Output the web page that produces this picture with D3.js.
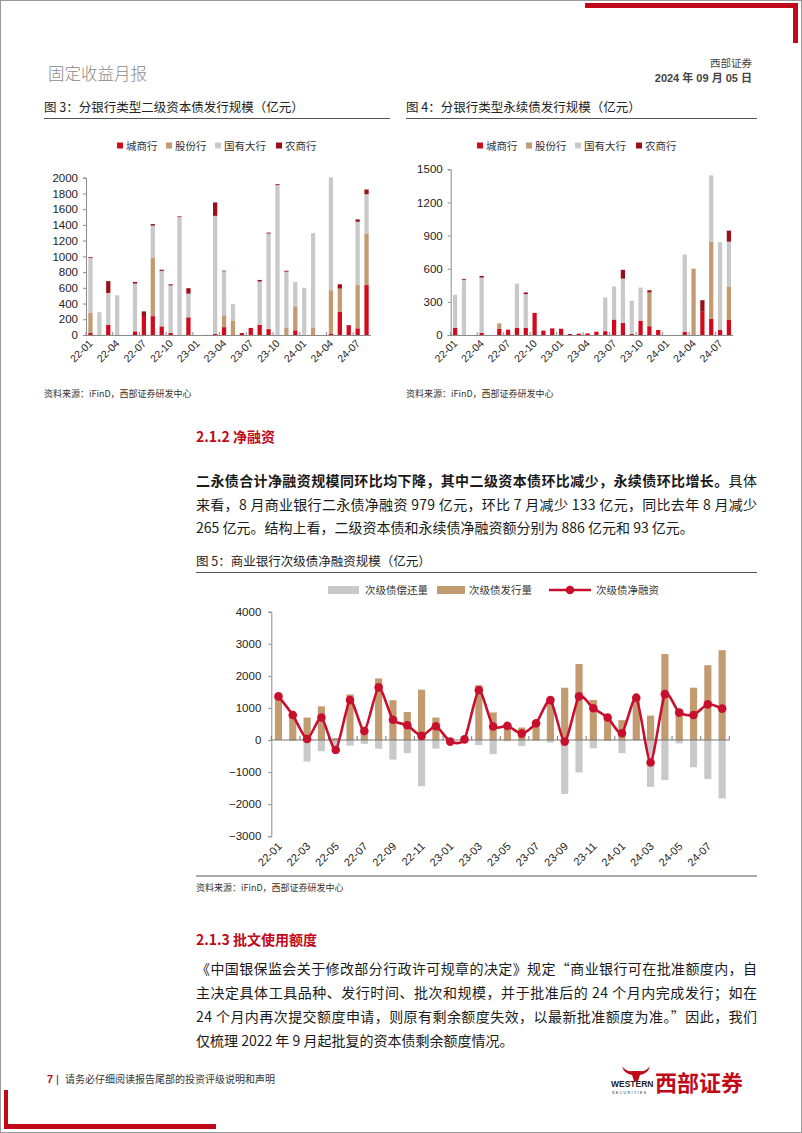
<!DOCTYPE html>
<html><head><meta charset="utf-8">
<script src="https://cdn.jsdelivr.net/npm/d3@7"></script>
<style>
html,body{margin:0;padding:0;background:#fff;}
svg{display:block;font-family:"Liberation Sans","Noto Sans CJK SC",sans-serif;}
</style></head>
<body>
<svg id="page" width="802" height="1133"></svg>
<script>
// ---------------- DATA ----------------
const months = ["22-01","22-02","22-03","22-04","22-05","22-06","22-07","22-08","22-09","22-10","22-11","22-12",
"23-01","23-02","23-03","23-04","23-05","23-06","23-07","23-08","23-09","23-10","23-11","23-12",
"24-01","24-02","24-03","24-04","24-05","24-06","24-07","24-08"];
const bankTypes = ["城商行","股份行","国有大行","农商行"];
// 图3 二级资本债
const t2City  = [25,0,130,0,0,47,230,240,110,25,0,225,0,0,15,100,0,25,90,130,75,0,0,60,0,0,0,20,295,125,85,635];
const t2Joint = [255,0,0,0,0,0,0,745,0,0,0,0,0,0,0,150,185,0,0,0,0,0,95,305,0,95,0,550,295,0,550,655];
const t2State = [700,290,405,505,0,607,0,405,705,605,1500,300,0,5,1500,560,210,0,0,550,1215,1905,710,310,600,1200,0,1435,0,0,805,500];
const t2Rural = [10,0,150,0,0,21,70,20,15,15,8,70,0,0,170,8,0,0,0,20,12,12,12,0,0,0,0,0,55,0,30,60];
// 图4 永续债
const pCity  = [65,0,0,20,0,55,48,65,65,200,40,60,57,9,12,15,30,35,140,110,10,130,80,45,0,0,30,0,210,145,45,140];
const pJoint = [0,0,0,0,0,50,0,0,0,0,0,0,0,0,0,0,0,0,0,0,0,0,305,0,0,0,0,600,0,700,0,300];
const pState = [300,500,0,500,0,0,0,400,305,0,0,0,0,0,0,0,0,305,300,400,300,300,0,0,0,0,700,0,0,600,795,405];
const pRural = [0,8,0,15,0,0,0,0,15,0,0,0,0,0,0,0,0,0,0,80,0,0,20,0,0,0,0,0,105,0,0,100];
// 图5 次级债
const seriesNames = ["次级债偿还量","次级债发行量","次级债净融资"];
const issue  = [1360,810,700,1050,60,1420,400,1920,1240,870,1570,700,50,30,1710,860,480,390,540,1320,1630,2370,1250,730,620,1330,760,2680,960,1630,2330,2800];
const redeem = [0,-30,-670,-350,-370,-175,-120,-270,-610,-410,-1440,-270,-100,-10,-160,-440,-40,-190,-20,-80,-1680,-1010,-260,-30,-410,-10,-1460,-1250,-105,-850,-1218,-1820];
const netFin = [1360,780,30,700,-310,1245,280,1640,630,460,130,430,-50,20,1550,420,440,200,520,1244,-50,1360,990,700,210,1320,-700,1430,855,780,1112,979];
const t2Ticks = [0,200,400,600,800,1000,1200,1400,1600,1800,2000];
const pTicks = [0,300,600,900,1200,1500];
const netTicks = [-3000,-2000,-1000,0,1000,2000,3000,4000];

// ---------------- STYLE ----------------
const C = {city:"#D20A1E", joint:"#C39B70", state:"#C9C9C9", rural:"#9B1018", line:"#C8102E", axis:"#8a8a8a", red:"#C00A1A"};
const CJK = '"Noto Sans CJK SC","Liberation Sans",sans-serif';
const fmt = d3.format("d");
const svg = d3.select("#page");

// page frame & decorations
svg.append("rect").attr("x",0.5).attr("y",0.5).attr("width",801).attr("height",1132).attr("fill","none").attr("stroke","#9a9a9a");
svg.append("rect").attr("x",585).attr("y",3).attr("width",212).attr("height",5).attr("fill",C.red);
svg.append("rect").attr("x",793).attr("y",3).attr("width",5).attr("height",40).attr("fill",C.red);
svg.append("rect").attr("x",4).attr("y",1090).attr("width",4).attr("height",38).attr("fill",C.red);
svg.append("rect").attr("x",4).attr("y",1124).attr("width",212).attr("height",5).attr("fill",C.red);

// header
svg.append("text").attr("x",48).attr("y",80).attr("font-size",16.5).attr("fill","#8a8a8a").style("font-family",CJK).attr("font-weight",300).text("固定收益月报");
svg.append("text").attr("x",752).attr("y",67).attr("text-anchor","end").attr("font-size",10.5).attr("fill","#444").style("font-family",CJK).text("西部证券");
svg.append("text").attr("x",752).attr("y",82).attr("text-anchor","end").attr("font-size",11).attr("font-weight","bold").attr("fill","#444").text("2024 年 09 月 05 日");

// titles
function figTitle(x, y, x2, txt){
  svg.append("text").attr("x",x).attr("y",y).attr("font-size",12.5).attr("fill","#222").style("font-family",CJK).text(txt);
  svg.append("line").attr("x1",x).attr("x2",x2).attr("y1",y+6.5).attr("y2",y+6.5).attr("stroke","#555").attr("stroke-width",1);
}
figTitle(44,112,390,"图 3：分银行类型二级资本债发行规模（亿元）");
figTitle(406,112,757,"图 4：分银行类型永续债发行规模（亿元）");
figTitle(196,566,757,"图 5：商业银行次级债净融资规模（亿元）");

function source(x, y){
  svg.append("text").attr("x",x).attr("y",y).attr("font-size",9).attr("fill","#333").style("font-family",CJK).text("资料来源：iFinD，西部证券研发中心");
}
source(44,397); source(406,397);
svg.append("line").attr("x1",196).attr("x2",757).attr("y1",876).attr("y2",876).attr("stroke","#555");
source(196,891);

// ---------------- stacked bar chart ----------------
function stackChart(opt){
  const g = svg.append("g");
  const x = d3.scaleBand().domain(months).range([opt.x0,opt.x1]).paddingInner(0.52).paddingOuter(0.26);
  const y = d3.scaleLinear().domain([0,opt.max]).range([opt.y0,opt.yTop]);
  const rows = months.map((m,i)=>({m, city:opt.s[0][i], joint:opt.s[1][i], state:opt.s[2][i], rural:opt.s[3][i]}));
  const keys = ["city","joint","state","rural"];
  const stack = d3.stack().keys(keys)(rows);
  stack.forEach(layer=>{
    g.append("g").attr("fill",C[layer.key]).selectAll("rect").data(layer).join("rect")
      .attr("x",d=>x(d.data.m)).attr("width",x.bandwidth())
      .attr("y",d=>y(d[1])).attr("height",d=>Math.max(0,y(d[0])-y(d[1])));
  });
  // y axis
  const ya = g.append("g").attr("transform",`translate(${opt.x0},0)`).call(d3.axisLeft(y).tickValues(opt.ticks).tickFormat(fmt).tickSize(3).tickPadding(5));
  ya.select(".domain").attr("stroke",C.axis);
  ya.selectAll(".tick line").attr("stroke",C.axis);
  ya.selectAll("text").attr("font-size",11.5).attr("fill","#222").style("font-family","Liberation Sans");
  // x axis
  g.append("line").attr("x1",opt.x0).attr("x2",opt.x1).attr("y1",opt.y0+0.5).attr("y2",opt.y0+0.5).attr("stroke",C.axis);
  for(let k=0;k<=months.length;k+=3){
    const xx = opt.x0 + k*(opt.x1-opt.x0)/months.length;
    g.append("line").attr("x1",xx).attr("x2",xx).attr("y1",opt.y0).attr("y2",opt.y0-3).attr("stroke",C.axis);
  }
  months.forEach((m,i)=>{
    if(i%3!==0) return;
    const cx = x(m)+x.bandwidth()/2;
    g.append("text").attr("transform",`translate(${cx+3},${opt.y0+9}) rotate(-45)`).attr("text-anchor","end")
      .attr("font-size",10.5).attr("fill","#222").text(m);
  });
  // legend
  const lx = opt.legendX;
  bankTypes.forEach((t,i)=>{
    g.append("rect").attr("x",lx[i]).attr("y",opt.legendY-3.5).attr("width",6).attr("height",6).attr("fill",C[keys[i]]);
    g.append("text").attr("x",lx[i]+9).attr("y",opt.legendY+3.5).attr("font-size",10.5).attr("fill","#333").style("font-family",CJK).text(t);
  });
}
stackChart({x0:86,x1:371,y0:335,yTop:177.7,max:2000,ticks:t2Ticks,s:[t2City,t2Joint,t2State,t2Rural],legendX:[117,166,215,276],legendY:146});
stackChart({x0:450.7,x1:733.3,y0:335,yTop:169.3,max:1500,ticks:pTicks,s:[pCity,pJoint,pState,pRural],legendX:[477,526,575,636],legendY:146});

// ---------------- chart 5 ----------------
(function(){
  const g = svg.append("g");
  const x0=271.3, x1=729.3;
  const x = d3.scaleBand().domain(months).range([x0,x1]).paddingInner(0.5).paddingOuter(0.25);
  const y = d3.scaleLinear().domain([-3000,4000]).range([836.25,611.7]);
  const ya = g.append("g").attr("transform",`translate(${x0},0)`).call(d3.axisLeft(y).tickValues(netTicks).tickFormat(fmt).tickSize(3).tickPadding(7));
  ya.select(".domain").attr("stroke",C.axis);
  ya.selectAll(".tick line").attr("stroke",C.axis);
  ya.selectAll("text").attr("font-size",11.5).attr("fill","#222").style("font-family","Liberation Sans");
  g.append("g").attr("fill",C.state).selectAll("rect").data(months).join("rect")
    .attr("x",m=>x(m)).attr("width",x.bandwidth())
    .attr("y",(m,i)=>y(Math.max(0,redeem[i]))).attr("height",(m,i)=>Math.abs(y(redeem[i])-y(0)));
  g.append("g").attr("fill",C.joint).selectAll("rect").data(months).join("rect")
    .attr("x",m=>x(m)).attr("width",x.bandwidth())
    .attr("y",(m,i)=>y(Math.max(0,issue[i]))).attr("height",(m,i)=>Math.abs(y(issue[i])-y(0)));
  g.append("line").attr("x1",x0).attr("x2",x1).attr("y1",y(0)).attr("y2",y(0)).attr("stroke","#777").attr("stroke-width",1.2);
  for(let k=0;k<=months.length;k+=2){
    const xx = x0 + k*(x1-x0)/months.length;
    g.append("line").attr("x1",xx).attr("x2",xx).attr("y1",y(0)).attr("y2",y(0)-4).attr("stroke","#777");
  }
  const cx = m=>x(m)+x.bandwidth()/2;
  const line = d3.line().x((d,i)=>cx(months[i])).y(d=>y(d)).curve(d3.curveCardinal.tension(0.35));
  g.append("path").datum(netFin).attr("d",line).attr("fill","none").attr("stroke",C.line).attr("stroke-width",2.6);
  g.append("g").attr("fill",C.line).selectAll("circle").data(netFin).join("circle")
    .attr("cx",(d,i)=>cx(months[i])).attr("cy",d=>y(d)).attr("r",4.3);
  months.forEach((m,i)=>{
    if(i%2!==0) return;
    g.append("text").attr("transform",`translate(${cx(m)+4},${847}) rotate(-45)`).attr("text-anchor","end")
      .attr("font-size",11).attr("fill","#222").text(m);
  });
  // legend
  const ly=590;
  g.append("rect").attr("x",328).attr("y",ly-4).attr("width",31).attr("height",8).attr("fill",C.state);
  g.append("text").attr("x",365).attr("y",ly+4).attr("font-size",10.5).attr("fill","#333").style("font-family",CJK).text(seriesNames[0]);
  g.append("rect").attr("x",437).attr("y",ly-4).attr("width",28).attr("height",8).attr("fill",C.joint);
  g.append("text").attr("x",469).attr("y",ly+4).attr("font-size",10.5).attr("fill","#333").style("font-family",CJK).text(seriesNames[1]);
  g.append("line").attr("x1",549).attr("x2",591).attr("y1",ly).attr("y2",ly).attr("stroke",C.line).attr("stroke-width",2.6);
  g.append("circle").attr("cx",570).attr("cy",ly).attr("r",4.3).attr("fill",C.line);
  g.append("text").attr("x",596).attr("y",ly+4).attr("font-size",10.5).attr("fill","#333").style("font-family",CJK).text(seriesNames[2]);
})();

// ---------------- body text ----------------
function heading(y, txt){
  svg.append("text").attr("x",196).attr("y",y).attr("font-size",14).attr("font-weight","bold").attr("fill",C.red).style("font-family",CJK).text(txt);
}
heading(442,"2.1.2 净融资");
heading(945,"2.1.3 批文使用额度");
function para(y, parts, justify){
  const t = svg.append("text").attr("x",196).attr("y",y).attr("font-size",14).attr("fill","#1a1a1a").style("font-family",CJK);
  if(justify){ t.attr("textLength",561).attr("lengthAdjust","spacing"); }
  parts.forEach(p=>{ t.append("tspan").attr("font-weight",p.b?"bold":"normal").text(p.t); });
}
para(486,[{t:"二永债合计净融资规模同环比均下降，其中二级资本债环比减少，永续债环比增长。",b:true},{t:"具体"}],true);
para(510,[{t:"来看，8 月商业银行二永债净融资 979 亿元，环比 7 月减少 133 亿元，同比去年 8 月减少"}],true);
para(533,[{t:"265 亿元。结构上看，二级资本债和永续债净融资额分别为 886 亿元和 93 亿元。"}],false);
para(974,[{t:"《中国银保监会关于修改部分行政许可规章的决定》规定“商业银行可在批准额度内，自"}],true);
para(998,[{t:"主决定具体工具品种、发行时间、批次和规模，并于批准后的 24 个月内完成发行；如在"}],true);
para(1022,[{t:"24 个月内再次提交额度申请，则原有剩余额度失效，以最新批准额度为准。”因此，我们"}],true);
para(1046,[{t:"仅梳理 2022 年 9 月起批复的资本债剩余额度情况。"}],false);

// ---------------- footer ----------------
svg.append("text").attr("x",47).attr("y",1083).attr("font-size",11).attr("font-weight","bold").attr("fill",C.red).text("7");
svg.append("text").attr("x",56).attr("y",1083).attr("font-size",11).attr("fill","#333").text("|");
svg.append("text").attr("x",65).attr("y",1083).attr("font-size",10).attr("fill","#333").style("font-family",CJK).text("请务必仔细阅读报告尾部的投资评级说明和声明");
// logo
const logo = svg.append("g");
logo.append("path").attr("d","M622,1066 q2,8 10,9 l2,6 l4,0 l2,-6 q8,-1 10,-9 q-4,6 -10,5 l-8,0 q-6,1 -10,-5z").attr("fill",C.red);
logo.append("text").attr("x",611).attr("y",1087).attr("font-size",8.5).attr("font-weight","bold").attr("fill","#222").text("WESTERN");
logo.append("text").attr("x",612).attr("y",1094).attr("font-size",3.6).attr("letter-spacing",1.4).attr("fill","#222").text("SECURITIES");
logo.append("text").attr("x",655).attr("y",1091).attr("font-size",22).attr("font-weight","bold").attr("fill",C.red).style("font-family",CJK).text("西部证券");
</script>
</body></html>
